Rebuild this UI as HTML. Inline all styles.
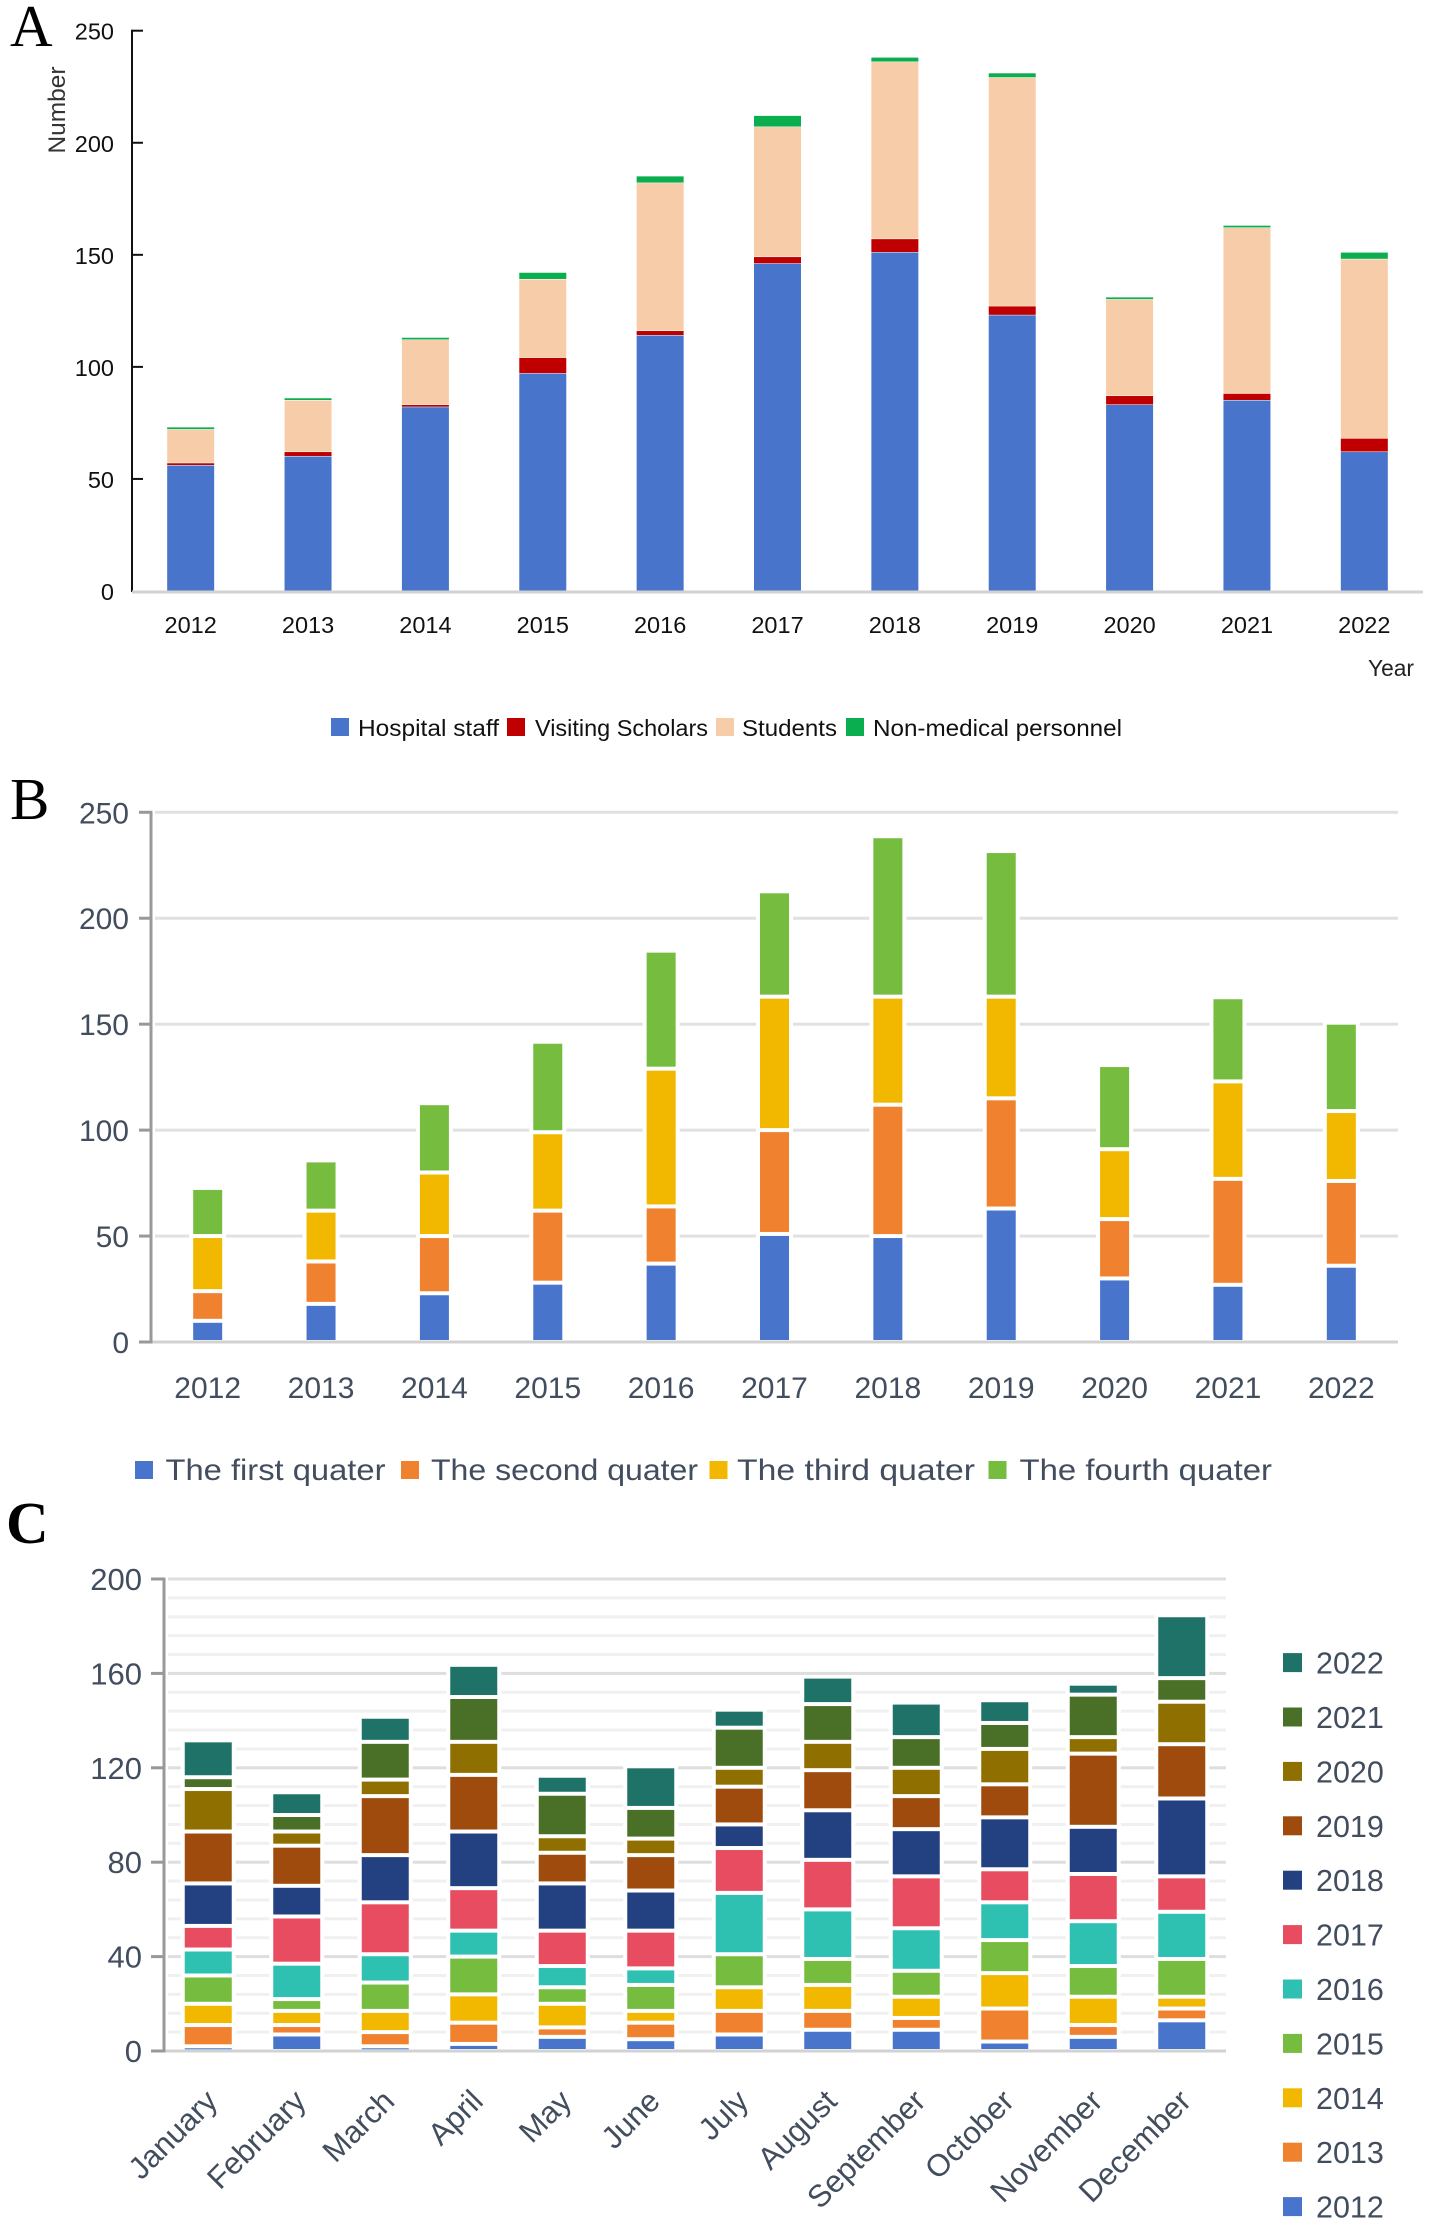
<!DOCTYPE html>
<html lang="en">
<head>
<meta charset="utf-8">
<title>Annual, quarterly and monthly counts</title>
<style>
  html, body { margin: 0; padding: 0; background: #fff; }
  body { width: 1430px; height: 2224px; overflow: hidden; }
  svg { display: block; }
  text { font-family: "Liberation Sans", sans-serif; }
  .letter { font-family: "Liberation Serif", serif; fill: #000; }
</style>
</head>
<body>
<svg id="figure" xmlns="http://www.w3.org/2000/svg" width="1430" height="2224" viewBox="0 0 1430 2224">
  <rect x="0" y="0" width="1430" height="2224" fill="#ffffff"></rect>
  <text class="letter" x="10" y="46" font-size="59">A</text>
  <text class="letter" x="10" y="819" font-size="59">B</text>
  <text class="letter" x="6" y="1543" font-size="59" font-weight="bold">C</text>
  <g id="panel-a"></g>
  <g id="panel-b"></g>
  <g id="panel-c"></g>
</svg>
<script>
/* ---------- Shared categories ---------- */
const years = ['2012','2013','2014','2015','2016','2017','2018','2019','2020','2021','2022'];
const months = ['January','February','March','April','May','June','July','August','September','October','November','December'];

/* ---------- Panel A data ---------- */
const hospitalStaff    = [56, 60, 82, 97, 114, 146, 151, 123, 83, 85, 62];
const visitingScholars = [1, 2, 1, 7, 2, 3, 6, 4, 4, 3, 6];
const students         = [15, 23, 29, 35, 66, 58, 79, 102, 43, 74, 80];
const nonMedical       = [1, 1, 1, 3, 3, 5, 2, 2, 1, 1, 3];
const ticksAB = [0, 50, 100, 150, 200, 250];

/* ---------- Panel B data ---------- */
const quarter1 = [10, 18, 23, 28, 37, 51, 50, 63, 30, 27, 36];
const quarter2 = [14, 20, 27, 34, 27, 49, 62, 52, 28, 50, 40];
const quarter3 = [26, 24, 30, 37, 65, 63, 51, 48, 33, 46, 33];
const quarter4 = [22, 23, 32, 42, 55, 49, 75, 68, 39, 39, 41];

/* ---------- Panel C data (one array per year, Jan..Dec) ---------- */
const m2012 = [2, 7, 2, 3, 6, 5, 7, 9, 9, 4, 6, 13];
const m2013 = [9, 4, 6, 9, 4, 7, 10, 8, 5, 14, 5, 5];
const m2014 = [9, 6, 9, 12, 10, 5, 10, 11, 9, 15, 12, 5];
const m2015 = [12, 5, 12, 16, 7, 11, 14, 11, 11, 14, 13, 16];
const m2016 = [11, 15, 12, 11, 9, 7, 26, 21, 18, 16, 19, 20];
const m2017 = [10, 20, 22, 18, 15, 16, 19, 21, 22, 14, 20, 15];
const m2018 = [18, 13, 20, 24, 20, 17, 10, 21, 20, 22, 20, 33];
const m2019 = [22, 17, 25, 24, 13, 15, 16, 17, 14, 14, 31, 23];
const m2020 = [18, 6, 7, 14, 7, 7, 8, 12, 12, 15, 7, 18];
const m2021 = [5, 7, 16, 19, 18, 13, 17, 16, 13, 11, 18, 10];
const m2022 = [15, 9, 10, 13, 7, 17, 7, 11, 14, 9, 4, 26];
const ticksCMajor = [0, 40, 80, 120, 160, 200];
const ticksCMinor = [8, 16, 24, 32, 48, 56, 64, 72, 88, 96, 104, 112, 128, 136, 144, 152, 168, 176, 184, 192];

const SVGNS = 'http://www.w3.org/2000/svg';

function mkRect(parent, x, y, w, h, fill) {
  const el = document.createElementNS(SVGNS, 'rect');
  el.setAttribute('x', x);
  el.setAttribute('y', y);
  el.setAttribute('width', w);
  el.setAttribute('height', h);
  el.setAttribute('fill', fill);
  parent.appendChild(el);
  return el;
}
function mkText(parent, str, x, y, size, anchor, fill, len) {
  const el = document.createElementNS(SVGNS, 'text');
  el.setAttribute('x', x);
  el.setAttribute('y', y);
  el.setAttribute('font-size', size);
  el.setAttribute('text-anchor', anchor);
  el.setAttribute('fill', fill);
  if (len) {
    el.setAttribute('textLength', len);
    el.setAttribute('lengthAdjust', 'spacingAndGlyphs');
  }
  el.textContent = str;
  parent.appendChild(el);
  return el;
}

/* ---------- Panel A ---------- */
(function () {
  const g = document.getElementById('panel-a');
  const left = 132, right = 1423, y0 = 591, y250 = 30.7, barW = 47, ink = '#111111';
  const band = (right - left) / years.length;
  const xA = i => left + band * (i + 0.5);
  const yA = v => y0 - (y0 - y250) * v / 250;
  const series = [
    { name: 'hospital-staff', values: hospitalStaff, color: '#4874CB' },
    { name: 'visiting-scholars', values: visitingScholars, color: '#C00000' },
    { name: 'students', values: students, color: '#F7CDA9' },
    { name: 'non-medical-personnel', values: nonMedical, color: '#0BAE4E' }
  ];

  years.forEach((yr, i) => {
    let cum = 0;
    series.forEach(s => {
      const top = yA(cum + s.values[i]);
      const bottom = yA(cum);
      const bar = mkRect(g, xA(i) - barW / 2, top, barW, Math.max(bottom - top - 0.5, 1.5), s.color);
      
      
      cum += s.values[i];
    });
    const lab = mkText(g, yr, xA(i), 633, 23.5, 'middle', ink);
    
    
  });

  const axis = mkRect(g, left - 1, y250 - 1, 2, y0 - y250 + 2, '#111111');
  
  
  const base = mkRect(g, left, y0 - 0.5, right - left, 3, '#d2d2d2');
  
  

  ticksAB.forEach(t => {
    if (t > 0) {
      const tk = mkRect(g, left, yA(t) - 1, 11, 2, '#111111');
      
      
    }
    const lab = mkText(g, String(t), 114, yA(t) + 9, 23.5, 'end', ink);
    
    
  });

  const yt = mkText(g, 'Number', 0, 0, 24, 'middle', '#333333', 87);
  yt.setAttribute('transform', 'translate(65 110) rotate(-90)');
  
  
  const xt = mkText(g, 'Year', 1368, 676, 23.5, 'start', '#222222', 46);
  
  

  function legend(label, color, sx, tx, len) {
    const sw = mkRect(g, sx, 718, 18, 18, color);
    
    
    const t = mkText(g, label, tx, 736, 23.5, 'start', ink, len);
    
    
  }
  legend('Hospital staff', series[0].color, 331, 358, 141);
  legend('Visiting Scholars', series[1].color, 507, 535, 173);
  legend('Students', series[2].color, 716, 742, 95);
  legend('Non-medical personnel', series[3].color, 846, 873, 249);
})();

/* ---------- Panel B ---------- */
(function () {
  const g = document.getElementById('panel-b');
  const left = 151, right = 1398, y0 = 1342, y250 = 812.3, barW = 29, ink = '#424d5e';
  const band = (right - left) / years.length;
  const xB = i => left + band * (i + 0.5);
  const yB = v => y0 - (y0 - y250) * v / 250;
  const series = [
    { name: 'first-quarter', values: quarter1, color: '#4874CB' },
    { name: 'second-quarter', values: quarter2, color: '#EF812F' },
    { name: 'third-quarter', values: quarter3, color: '#F2B800' },
    { name: 'fourth-quarter', values: quarter4, color: '#75BC3F' }
  ];

  ticksAB.forEach(t => {
    if (t > 0) {
      const gl = mkRect(g, left + 4, yB(t) - 1.5, right - left - 4, 3, '#e1e1e1');
      
      
    }
    const tk = mkRect(g, left - 12, yB(t) - 1.5, 12, 3, '#999999');
    
    
    const lab = mkText(g, String(t), 129, yB(t) + 11, 30, 'end', ink);
    
    
  });

  const base = mkRect(g, left, y0 - 1.5, right - left, 3, '#d2d2d2');
  
  
  const axis = mkRect(g, left - 1.5, y250 - 1.5, 3, y0 - y250 + 3, '#999999');
  
  

  years.forEach((yr, i) => {
    const total = quarter1[i] + quarter2[i] + quarter3[i] + quarter4[i];
    const halo = mkRect(g, xB(i) - barW / 2 - 4, yB(total) - 2, barW + 8, yB(0) - yB(total), '#ffffff');
    
    
    let cum = 0;
    series.forEach((s, k) => {
      const top = yB(cum + s.values[i]);
      const bottom = yB(cum);
      const inset = k === series.length - 1 ? 0.5 : 2;
      const bar = mkRect(g, xB(i) - barW / 2, top + inset, barW, Math.max(bottom - top - inset - 2, 1), s.color);
      
      
      cum += s.values[i];
    });
    const lab = mkText(g, yr, xB(i), 1398, 30, 'middle', ink);
    
    
  });

  function legend(label, color, sx, tx, len) {
    const sw = mkRect(g, sx, 1461, 18, 18, color);
    
    
    const t = mkText(g, label, tx, 1480, 30, 'start', ink, len);
    
    
  }
  legend('The first quater', series[0].color, 135, 165.5, 220);
  legend('The second quater', series[1].color, 401, 431, 267);
  legend('The third quater', series[2].color, 709.5, 737, 238);
  legend('The fourth quater', series[3].color, 988.5, 1019.5, 252.5);
})();

/* ---------- Panel C ---------- */
(function () {
  const g = document.getElementById('panel-c');
  const left = 164, right = 1226, y0 = 2051, y200 = 1579, barW = 47, ink = '#424d5e';
  const band = (right - left) / months.length;
  const xC = i => left + band * (i + 0.5);
  const yC = v => y0 - (y0 - y200) * v / 200;
  const series = [
    { name: '2012', values: m2012, color: '#4874CB' },
    { name: '2013', values: m2013, color: '#EF812F' },
    { name: '2014', values: m2014, color: '#F2B800' },
    { name: '2015', values: m2015, color: '#75BC3F' },
    { name: '2016', values: m2016, color: '#2EC0B0' },
    { name: '2017', values: m2017, color: '#E84C60' },
    { name: '2018', values: m2018, color: '#234181' },
    { name: '2019', values: m2019, color: '#9E4B0D' },
    { name: '2020', values: m2020, color: '#8F6F00' },
    { name: '2021', values: m2021, color: '#4A7027' },
    { name: '2022', values: m2022, color: '#1F7268' }
  ];

  ticksCMinor.forEach(t => {
    const gl = mkRect(g, left + 4, yC(t) - 1.5, right - left - 4, 3, '#f0f0f0');
    
    
  });
  ticksCMajor.forEach(t => {
    if (t > 0) {
      const gl = mkRect(g, left + 4, yC(t) - 1.5, right - left - 4, 3, '#dedede');
      
      
    }
    const tk = mkRect(g, left - 13, yC(t) - 1.5, 13, 3, '#999999');
    
    
    const lab = mkText(g, String(t), 142, yC(t) + 11, 31, 'end', ink);
    
    
  });

  const base = mkRect(g, left, y0 - 1.5, right - left, 3, '#d2d2d2');
  
  
  const axis = mkRect(g, left - 1.5, y200 - 1.5, 3, y0 - y200 + 3, '#999999');
  
  

  months.forEach((mo, i) => {
    let total = 0;
    series.forEach(s => { total += s.values[i]; });
    const halo = mkRect(g, xC(i) - barW / 2 - 4, yC(total) - 2, barW + 8, yC(0) - yC(total), '#ffffff');
    
    
    let cum = 0;
    series.forEach((s, k) => {
      const top = yC(cum + s.values[i]);
      const bottom = yC(cum);
      const inset = k === series.length - 1 ? 0.5 : 2;
      const bar = mkRect(g, xC(i) - barW / 2, top + inset, barW, Math.max(bottom - top - inset - 2, 1), s.color);
      
      
      cum += s.values[i];
    });
    const lab = mkText(g, mo, 0, 0, 31, 'end', ink);
    lab.setAttribute('transform', 'translate(' + (xC(i) + 11) + ' 2103) rotate(-45)');
    
    
  });

  series.slice().reverse().forEach((s, k) => {
    const cy = 1662.6 + k * 54.4;
    const sw = mkRect(g, 1283, cy - 9.5, 19, 19, s.color);
    
    
    const t = mkText(g, s.name, 1316, cy + 11, 30.5, 'start', ink);
    
    
  });
})();
</script>
</body>
</html>
